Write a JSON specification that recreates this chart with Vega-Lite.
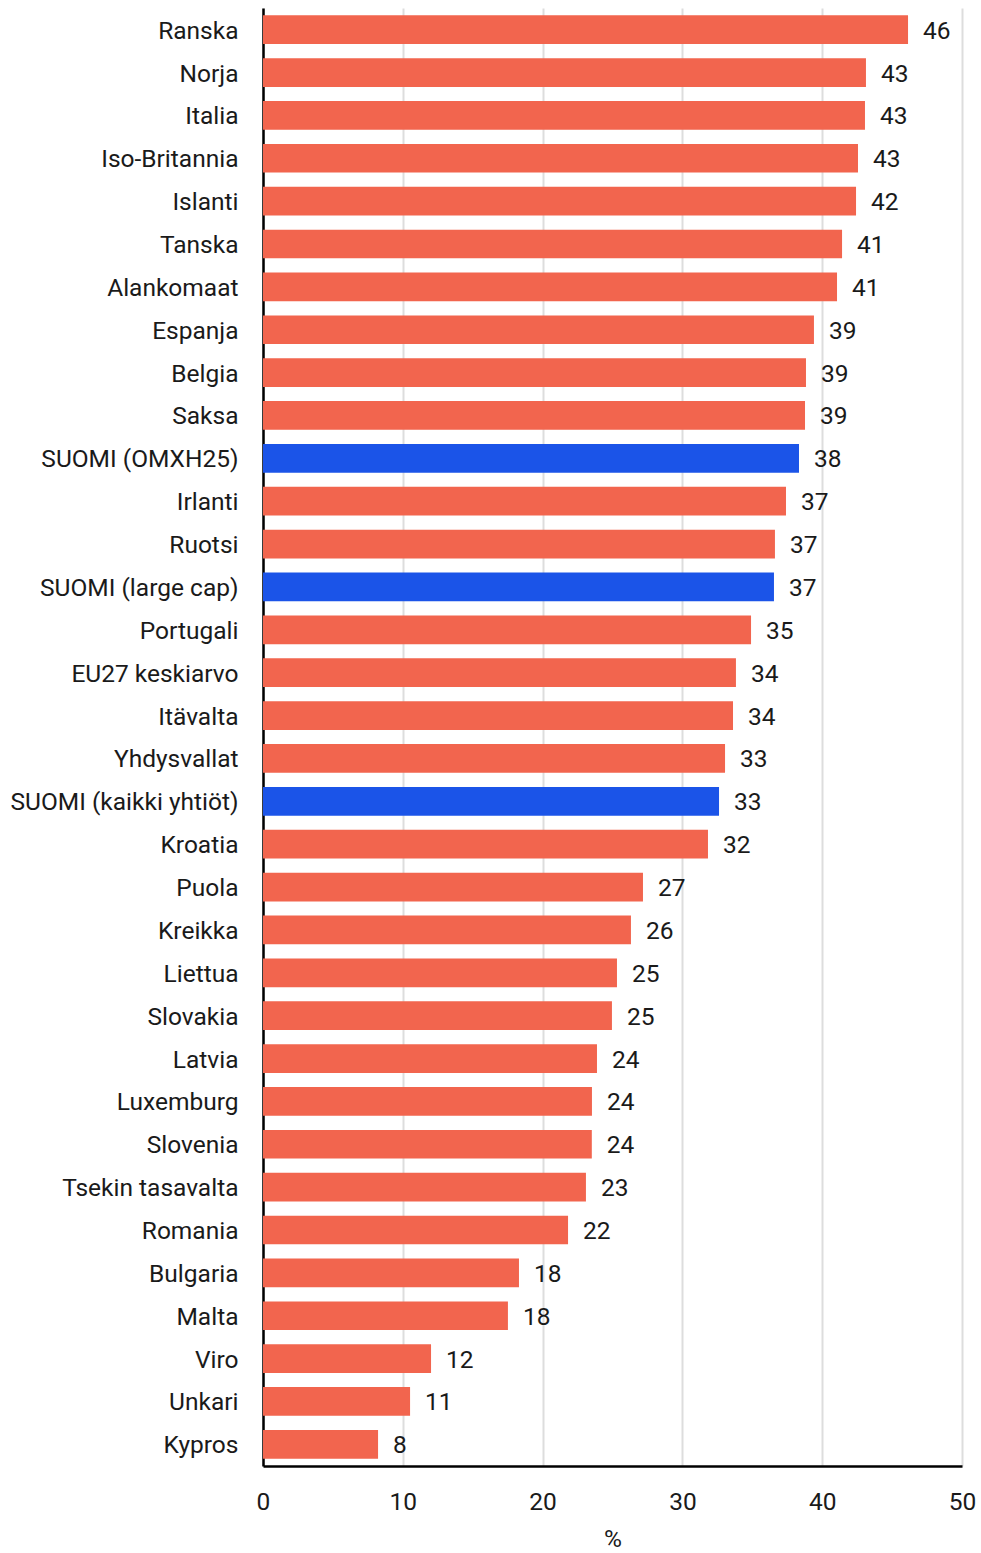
{
  "$schema": "https://vega.github.io/schema/vega-lite/v6.json",
  "width": 699,
  "height": 1458,
  "autosize": {"type": "none"},
  "padding": {"left": 263, "top": 8, "right": 19, "bottom": 87},
  "background": "white",
  "config": {
    "view": {"stroke": null},
    "font": "Roboto",
    "axis": {"labelFont": "Roboto", "titleFont": "Roboto", "labelColor": "#1a1a1a", "titleColor": "#1a1a1a"}
  },
  "data": {
    "values": [
      {"maa": "Ranska", "arvo": 46.14, "suomi": false},
      {"maa": "Norja", "arvo": 43.13, "suomi": false},
      {"maa": "Italia", "arvo": 43.06, "suomi": false},
      {"maa": "Iso-Britannia", "arvo": 42.56, "suomi": false},
      {"maa": "Islanti", "arvo": 42.42, "suomi": false},
      {"maa": "Tanska", "arvo": 41.42, "suomi": false},
      {"maa": "Alankomaat", "arvo": 41.06, "suomi": false},
      {"maa": "Espanja", "arvo": 39.41, "suomi": false},
      {"maa": "Belgia", "arvo": 38.84, "suomi": false},
      {"maa": "Saksa", "arvo": 38.77, "suomi": false},
      {"maa": "SUOMI (OMXH25)", "arvo": 38.34, "suomi": true},
      {"maa": "Irlanti", "arvo": 37.41, "suomi": false},
      {"maa": "Ruotsi", "arvo": 36.62, "suomi": false},
      {"maa": "SUOMI (large cap)", "arvo": 36.55, "suomi": true},
      {"maa": "Portugali", "arvo": 34.91, "suomi": false},
      {"maa": "EU27 keskiarvo", "arvo": 33.83, "suomi": false},
      {"maa": "Itävalta", "arvo": 33.62, "suomi": false},
      {"maa": "Yhdysvallat", "arvo": 33.05, "suomi": false},
      {"maa": "SUOMI (kaikki yhtiöt)", "arvo": 32.62, "suomi": true},
      {"maa": "Kroatia", "arvo": 31.83, "suomi": false},
      {"maa": "Puola", "arvo": 27.18, "suomi": false},
      {"maa": "Kreikka", "arvo": 26.32, "suomi": false},
      {"maa": "Liettua", "arvo": 25.32, "suomi": false},
      {"maa": "Slovakia", "arvo": 24.96, "suomi": false},
      {"maa": "Latvia", "arvo": 23.89, "suomi": false},
      {"maa": "Luxemburg", "arvo": 23.53, "suomi": false},
      {"maa": "Slovenia", "arvo": 23.52, "suomi": false},
      {"maa": "Tsekin tasavalta", "arvo": 23.1, "suomi": false},
      {"maa": "Romania", "arvo": 21.82, "suomi": false},
      {"maa": "Bulgaria", "arvo": 18.31, "suomi": false},
      {"maa": "Malta", "arvo": 17.52, "suomi": false},
      {"maa": "Viro", "arvo": 12.02, "suomi": false},
      {"maa": "Unkari", "arvo": 10.52, "suomi": false},
      {"maa": "Kypros", "arvo": 8.23, "suomi": false}
    ]
  },
  "encoding": {
    "y": {
      "field": "maa", "type": "nominal", "sort": null,
      "scale": {"paddingInner": 0.33, "paddingOuter": 0.17},
      "axis": {"title": null, "ticks": false, "labelFontSize": 24.5, "labelPadding": 25, "labelOffset": 2, "domainColor": "#000000", "domainWidth": 2.5, "labelLimit": 400}
    },
    "x": {
      "field": "arvo", "type": "quantitative",
      "scale": {"domain": [0, 50], "nice": false},
      "axis": {"title": "%", "values": [0, 10, 20, 30, 40, 50], "ticks": false, "labelFlush": false, "labelFontSize": 24.5, "labelPadding": 24, "titleFontSize": 24.5, "titleFontWeight": "normal", "titlePadding": 14, "domainColor": "#000000", "domainWidth": 2.5, "gridColor": "#dddddd", "gridWidth": 2}
    }
  },
  "layer": [
    {
      "mark": {"type": "bar"},
      "encoding": {
        "color": {"field": "suomi", "type": "nominal", "scale": {"domain": [false, true], "range": ["#F2654E", "#1B54E8"]}, "legend": null}
      }
    },
    {
      "mark": {"type": "text", "align": "left", "baseline": "middle", "dx": 15, "dy": 2, "fontSize": 24.5, "color": "#1a1a1a", "font": "Roboto"},
      "encoding": {
        "text": {"field": "arvo", "type": "quantitative", "format": ".0f"}
      }
    }
  ]
}
